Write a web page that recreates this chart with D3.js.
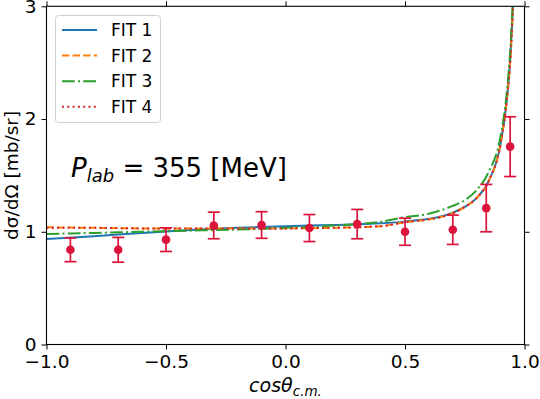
<!DOCTYPE html>
<html><head><meta charset="utf-8">
<script src="https://cdn.jsdelivr.net/npm/d3@7"></script>
<style>body{margin:0;background:#fff;} svg{display:block;font-family:"DejaVu Sans",sans-serif;}</style>
</head><body>
<svg id="c" width="540" height="399"></svg>
<script>
// ---- data ----
const fitX  = [-1.0,-0.8,-0.6,-0.4,-0.2,0.0,0.2,0.4,0.5,0.6,0.65,0.7,0.75,0.8,0.85,0.9,0.925,0.94,0.95,0.96,0.97];
const fit1  = [0.935,0.96,0.99,1.015,1.035,1.05,1.06,1.075,1.09,1.115,1.135,1.17,1.22,1.3,1.45,1.78,2.15,2.52,2.92,3.4,4.0];
const fit2  = [1.04,1.035,1.03,1.03,1.03,1.03,1.035,1.05,1.085,1.11,1.13,1.165,1.22,1.3,1.45,1.78,2.15,2.5,2.9,3.4,4.0];
const fit3  = [0.98,0.99,1.0,1.01,1.02,1.035,1.055,1.09,1.13,1.16,1.19,1.23,1.28,1.37,1.53,1.85,2.22,2.6,3.0,3.5,4.1];
const fit4  = [1.035,1.035,1.03,1.03,1.03,1.03,1.035,1.05,1.085,1.11,1.13,1.165,1.22,1.3,1.45,1.78,2.15,2.5,2.9,3.4,4.0];
const fitNames = ["FIT 1","FIT 2","FIT 3","FIT 4"];
const dataX   = [-0.9,-0.7,-0.5,-0.3,-0.1,0.1,0.3,0.5,0.7,0.84,0.94];
const dataY   = [0.84,0.84,0.93,1.056,1.06,1.033,1.068,1.0,1.018,1.21,1.755];
const dataErr = [0.105,0.11,0.105,0.118,0.118,0.12,0.13,0.12,0.13,0.21,0.265];
const xTicks = [-1.0,-0.5,0.0,0.5,1.0];
const yTicks = [0,1,2,3];

// ---- layout ----
const svg = d3.select("#c");
const L = 46.5, R = 524.5, T = 6.3, B = 344.5;
const x = d3.scaleLinear().domain([-1,1]).range([L,R]);
const y = d3.scaleLinear().domain([0,3]).range([B,T]);

svg.append("clipPath").attr("id","clip").append("rect")
  .attr("x",L).attr("y",T).attr("width",R-L).attr("height",B-T);

const styles = [
  {color:"#1f77b4", dash:null},
  {color:"#ff7f0e", dash:"7.4,3.2"},
  {color:"#2ca02c", dash:"12.8,3.2,2,3.2"},
  {color:"#d62728", dash:"2,3.3"}
];
const fits = [fit1,fit2,fit3,fit4];
const line = d3.line().x(d=>x(d[0])).y(d=>y(d[1])).curve(d3.curveMonotoneX);
const gL = svg.append("g").attr("clip-path","url(#clip)");
fits.forEach((f,i)=>{
  gL.append("path").datum(fitX.map((v,j)=>[v,f[j]]))
    .attr("d",line).attr("fill","none")
    .attr("stroke",styles[i].color).attr("stroke-width",2)
    .attr("stroke-dasharray",styles[i].dash);
});

// data points
const red = "#dc143c";
const gD = svg.append("g");
dataX.forEach((v,i)=>{
  const cx = x(v), y0 = y(dataY[i]-dataErr[i]), y1 = y(dataY[i]+dataErr[i]);
  gD.append("line").attr("x1",cx).attr("x2",cx).attr("y1",y0).attr("y2",y1).attr("stroke",red).attr("stroke-width",1.7);
  [y0,y1].forEach(yy=>gD.append("line").attr("x1",cx-6).attr("x2",cx+6).attr("y1",yy).attr("y2",yy).attr("stroke",red).attr("stroke-width",1.7));
  gD.append("circle").attr("cx",cx).attr("cy",y(dataY[i])).attr("r",4.3).attr("fill",red);
});

// axes
const fmtX = d=> d3.format(".1f")(d).replace("-","\u2212");
function styleAxis(g){ g.select(".domain").remove(); g.selectAll("line").attr("stroke","#000").attr("stroke-width",1);
  g.selectAll("text").attr("fill","#000").style("font-size","18.5px").style("font-family","DejaVu Sans"); }
svg.append("g").attr("transform",`translate(0,${B})`)
  .call(d3.axisBottom(x).tickValues(xTicks).tickFormat(fmtX).tickSize(5).tickPadding(5)).call(styleAxis);
svg.append("g").attr("transform",`translate(0,${T})`)
  .call(d3.axisTop(x).tickValues(xTicks).tickFormat("").tickSize(5)).call(styleAxis);
svg.append("g").attr("transform",`translate(${L},0)`)
  .call(d3.axisLeft(y).tickValues(yTicks).tickFormat(d3.format("d")).tickSize(5).tickPadding(5)).call(styleAxis);
svg.append("g").attr("transform",`translate(${R},0)`)
  .call(d3.axisRight(y).tickValues(yTicks).tickFormat("").tickSize(5)).call(styleAxis);
svg.append("rect").attr("x",L).attr("y",T).attr("width",R-L).attr("height",B-T)
  .attr("fill","none").attr("stroke","#000").attr("stroke-width",1.1);

// axis labels
const xl = svg.append("text").attr("x",(L+R)/2).attr("y",392).attr("text-anchor","middle")
  .style("font-size","19px").style("font-style","italic").attr("fill","#000");
xl.append("tspan").text("cosθ");
xl.append("tspan").attr("dy",4).style("font-size","13.5px").text("c.m.");
svg.append("text").attr("transform",`translate(18,${(T+B)/2}) rotate(-90)`).attr("text-anchor","middle")
  .style("font-size","18.5px").attr("fill","#000").text("dσ/dΩ [mb/sr]");

// annotation
const ann = svg.append("text").attr("x",71).attr("y",177).style("font-size","26px").attr("fill","#000");
ann.append("tspan").style("font-style","italic").text("P");
ann.append("tspan").attr("dy",5).style("font-size","18px").style("font-style","italic").text("lab");
ann.append("tspan").attr("dy",-5).text(" = 355 [MeV]");

// legend
const lg = svg.append("g");
lg.append("rect").attr("x",55.5).attr("y",15.5).attr("width",105).attr("height",107).attr("rx",3)
  .attr("fill","#fff").attr("fill-opacity",0.8).attr("stroke","#d0d0d0").attr("stroke-width",1);
fitNames.forEach((n,i)=>{
  const yy = 30 + i*25.6;
  lg.append("line").attr("x1",62).attr("x2",97).attr("y1",yy).attr("y2",yy)
    .attr("stroke",styles[i].color).attr("stroke-width",2).attr("stroke-dasharray",styles[i].dash);
  lg.append("text").attr("x",111).attr("y",yy+6).style("font-size","17px").attr("fill","#000").text(n);
});
</script>
</body></html>
